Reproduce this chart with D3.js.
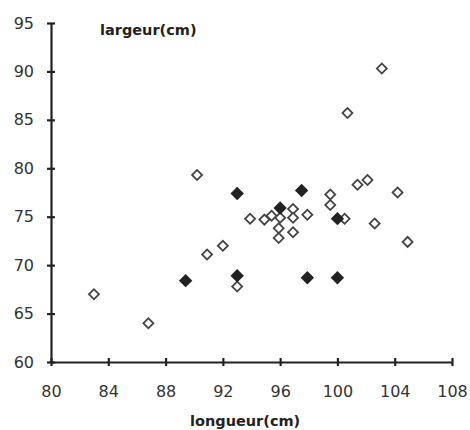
<!DOCTYPE html>
<html>
<head>
<meta charset="utf-8">
<script src="https://cdn.jsdelivr.net/npm/d3@7"></script>
<style>
  body { margin: 0; background: #fff; }
  .axis text { font-family: "DejaVu Sans", sans-serif; font-size: 16px; fill: #333; }
  .axis path, .axis line { stroke: #222; stroke-width: 2.2; }
  .title { font-family: "DejaVu Sans", sans-serif; font-weight: bold; font-size: 14.5px; fill: #222; }
</style>
</head>
<body>
<div id="chart"></div>
<script>
// open diamonds
var openLon = [83, 86.8, 90.2, 90.9, 92, 93, 93.9, 94.9, 95.4, 96, 95.9, 95.9, 96.9, 96.9, 96.9, 97.9, 99.5, 99.5, 100.5, 100.7, 101.4, 102.1, 102.6, 103.1, 104.2, 104.9];
var openLar = [67, 64, 79.3, 71.1, 72, 67.8, 74.8, 74.7, 75.1, 74.9, 73.8, 72.8, 75.8, 74.9, 73.4, 75.2, 77.3, 76.2, 74.8, 85.7, 78.3, 78.8, 74.3, 90.3, 77.5, 72.4];
// filled diamonds
var fillLon = [89.4, 93, 93, 96, 97.5, 97.9, 100, 100];
var fillLar = [68.4, 77.4, 68.9, 75.9, 77.7, 68.7, 68.7, 74.8];

var xTicks = [80, 84, 88, 92, 96, 100, 104, 108];
var yTicks = [60, 65, 70, 75, 80, 85, 90, 95];

var width = 470, height = 430;
var margin = {top: 23, right: 18, bottom: 68, left: 51};

var svg = d3.select("#chart").append("svg")
  .attr("width", width)
  .attr("height", height);

var x = d3.scaleLinear().domain([80, 108]).range([margin.left, width - margin.right]);
var y = d3.scaleLinear().domain([60, 95]).range([height - margin.bottom, margin.top]);

var xAxis = svg.append("g")
  .attr("class", "axis")
  .attr("transform", "translate(0," + y(60) + ")")
  .call(d3.axisBottom(x).tickValues(xTicks).tickSizeInner(4).tickSizeOuter(0).tickPadding(20));
xAxis.selectAll(".tick line").attr("y1", -4);

var yAxis = svg.append("g")
  .attr("class", "axis")
  .attr("transform", "translate(" + x(80) + ",0)")
  .call(d3.axisLeft(y).tickValues(yTicks).tickSizeInner(4).tickSizeOuter(0).tickPadding(13));
yAxis.selectAll(".tick line").attr("x1", 4);

svg.append("text").attr("class", "title")
  .attr("x", 100).attr("y", 35)
  .text("largeur(cm)");

svg.append("text").attr("class", "title")
  .attr("x", 190).attr("y", 426)
  .text("longueur(cm)");

var diamond = d3.symbol().type(d3.symbolSquare).size(50);
var bigDiamond = d3.symbol().type(d3.symbolSquare).size(62);

svg.append("g").selectAll("path")
  .data(d3.range(openLon.length))
  .enter().append("path")
  .attr("d", diamond)
  .attr("transform", function(i) { return "translate(" + x(openLon[i]) + "," + y(openLar[i]) + ") rotate(45)"; })
  .style("fill", "#fff")
  .style("stroke", "#444")
  .style("stroke-width", 1.8);

svg.append("g").selectAll("path")
  .data(d3.range(fillLon.length))
  .enter().append("path")
  .attr("d", bigDiamond)
  .attr("transform", function(i) { return "translate(" + x(fillLon[i]) + "," + y(fillLar[i]) + ") rotate(45)"; })
  .style("fill", "#222")
  .style("stroke", "#222")
  .style("stroke-width", 1.6);
</script>
</body>
</html>
